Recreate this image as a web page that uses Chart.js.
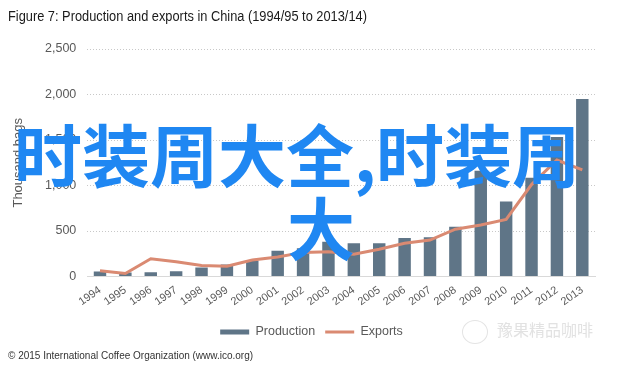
<!DOCTYPE html>
<html>
<head>
<meta charset="utf-8">
<script src="https://cdn.jsdelivr.net/npm/chart.js@4"></script>
<style>
  html, body { margin: 0; padding: 0; background: #fff; }
  #wrap { position: relative; width: 640px; height: 366px; overflow: hidden; background: #fff; }
  #c { position: absolute; left: 0; top: 0; }
  .txt { position: absolute; white-space: nowrap; }
  #title { left: 8px; top: 9px; font: 14px "Liberation Sans", Arial, sans-serif; line-height: 14px; color: #1a1a1a; transform-origin: 0 0; transform: scaleX(0.915); }
  #footer { left: 8px; top: 351px; font: 10px "Liberation Sans", Arial, sans-serif; line-height: 10px; color: #333; }
  .overlay { font-family: "Noto Sans CJK SC", sans-serif; font-weight: 700; font-size: 68px; line-height: 68px; color: #1f87f2; }
  #ov1 { left: 14px; top: 119px; }
  #ov2 { left: 287px; top: 192px; }
  #wm { left: 497px; top: 321px; font: 16px "Noto Sans CJK SC", sans-serif; line-height: 16px; color: #e2e2e2; }
  #wmlogo { position: absolute; left: 462px; top: 320px; width: 24px; height: 22px; border: 1px solid #e4e4e4; border-radius: 50%; }
</style>
</head>
<body>
<div id="wrap">
  <canvas id="c" width="640" height="366"></canvas>
  <div id="title" class="txt">Figure 7: Production and exports in China (1994/95 to 2013/14)</div>
  <div id="footer" class="txt">© 2015 International Coffee Organization (www.ico.org)</div>
  <div id="wmlogo"></div>
  <div id="wm" class="txt">豫果精品咖啡</div>
  <div id="ov1" class="txt overlay">时装周大全,时装周</div>
  <div id="ov2" class="txt overlay">大</div>
</div>
<script>
const years = ['1994','1995','1996','1997','1998','1999','2000','2001','2002','2003','2004','2005','2006','2007','2008','2009','2010','2011','2012','2013'];
const production = [55, 45, 48, 57, 98, 132, 176, 284, 310, 383, 365, 365, 424, 431, 548, 1161, 824, 1084, 1532, 1950];
const exportsData = [62, 33, 195, 163, 122, 112, 182, 215, 265, 273, 245, 300, 365, 400, 520, 567, 628, 1010, 1280, 1172];
const yTicks = [0, 500, 1000, 1500, 2000, 2500];

const legendShift = {
  id: 'legendShift',
  afterLayout(chart) {
    if (chart.legend) { chart.legend.left += 14; chart.legend.right += 14; }
  }
};

new Chart(document.getElementById('c'), {
  type: 'bar',
  data: {
    labels: years,
    datasets: [
      {
        label: 'Production',
        data: production,
        backgroundColor: '#5f7587',
        borderWidth: 0,
        categoryPercentage: 1.0,
        barPercentage: 0.49,
        pointStyle: 'rect',
        order: 2
      },
      {
        type: 'line',
        label: 'Exports',
        data: exportsData,
        borderColor: '#da8a72',
        backgroundColor: '#da8a72',
        borderWidth: 3,
        pointRadius: 0,
        tension: 0,
        pointStyle: 'line',
        order: 1
      }
    ]
  },
  plugins: [legendShift],
  options: {
    responsive: false,
    animation: false,
    layout: { padding: { left: 0, right: 45, top: 49, bottom: 17.75 } },
    plugins: {
      tooltip: { enabled: false },
      title: { display: false },
      legend: {
        display: true,
        position: 'bottom',
        labels: {
          usePointStyle: true,
          pointStyleWidth: 29,
          boxHeight: 5,
          padding: 10,
          color: '#595959',
          font: { family: '"Liberation Sans", Arial, sans-serif', size: 12.5 },
          sort: (a, b) => a.datasetIndex - b.datasetIndex
        }
      }
    },
    scales: {
      x: {
        grid: { display: false, drawTicks: false },
        border: { display: true, color: '#d9d9d9', width: 1 },
        ticks: {
          autoSkip: false,
          minRotation: 35,
          maxRotation: 35,
          padding: 7,
          color: '#595959',
          font: { family: '"Liberation Sans", Arial, sans-serif', size: 11 }
        },
        afterFit(scale) { scale.height = 39.25; }
      },
      y: {
        min: 0,
        max: 2500,
        afterBuildTicks(scale) { scale.ticks = yTicks.map(v => ({ value: v })); },
        grid: { color: '#c8c8c8', lineWidth: 1, drawTicks: false },
        border: { display: false, dash: [1, 2] },
        ticks: {
          padding: 11,
          color: '#595959',
          font: { family: '"Liberation Sans", Arial, sans-serif', size: 12.5 },
          callback: (v) => Number(v).toLocaleString('en-US')
        },
        title: {
          display: true,
          text: 'Thousand bags',
          color: '#595959',
          padding: { top: 11, bottom: 0 },
          font: { family: '"Liberation Sans", Arial, sans-serif', size: 13 }
        },
        afterFit(scale) { scale.width = 87.3; }
      }
    }
  }
});
</script>
</body>
</html>
